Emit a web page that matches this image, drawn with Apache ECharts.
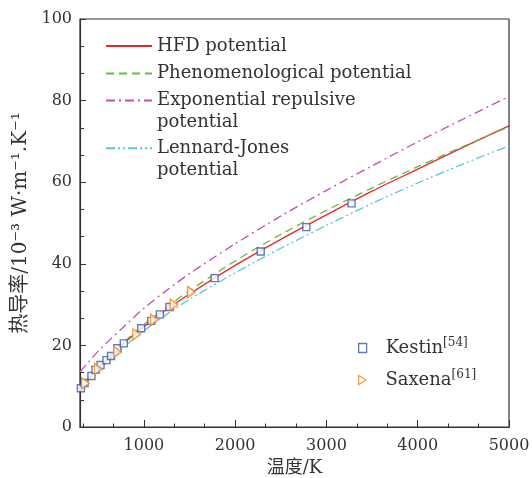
<!DOCTYPE html>
<html><head><meta charset="utf-8">
<script src="https://cdn.jsdelivr.net/npm/echarts@6/dist/echarts.min.js"></script>
<style>html,body{margin:0;padding:0;background:#fff}#c{width:532px;height:478px}</style>
</head><body><div id="c"></div>
<script>
// ---- data ----
const temps = [300, 400, 500, 600, 800, 1000, 1250, 1500, 2000, 2500, 3000, 3500, 4000, 4500, 5000];
const hfd   = [9.5, 12.0, 14.4, 16.6, 20.9, 24.6, 28.8, 32.6, 39.6, 46.0, 52.0, 57.8, 63.2, 68.6, 73.8];
const phen  = [9.5, 12.0, 14.6, 16.9, 21.2, 25.1, 29.4, 33.4, 40.7, 47.2, 53.1, 58.6, 63.8, 68.8, 73.6];
const expo  = [13.5, 16.1, 18.6, 20.8, 25.0, 29.1, 33.5, 37.6, 44.9, 51.7, 58.0, 64.0, 69.9, 75.5, 81.0];
const lj    = [9.2, 11.7, 14.0, 16.0, 20.0, 23.6, 27.6, 31.3, 37.8, 43.8, 49.4, 54.8, 59.8, 64.5, 68.9];

const kestinT = [310, 350, 425, 470, 525, 590, 640, 710, 780, 970, 1080, 1175, 1280, 1775, 2280, 2780, 3275];
const kestinV = [9.5, 10.8, 12.5, 14.0, 15.2, 16.4, 17.4, 19.3, 20.5, 24.2, 26.0, 27.6, 29.4, 36.5, 43.0, 49.0, 54.8];
const saxenaT = [360, 500, 710, 920, 1115, 1330, 1520];
const saxenaV = [10.7, 14.2, 18.4, 22.7, 26.3, 30.0, 33.1];

const xMajorTicks = [1000, 2000, 3000, 4000, 5000];
const xMinorTicks = [333.3, 666.7, 1333.3, 1666.7, 2333.3, 2666.7, 3333.3, 3666.7, 4333.3, 4666.7];

const names = {
  hfd: 'HFD potential',
  phen: 'Phenomenological potential',
  expo: 'Exponential repulsive\npotential',
  lj: 'Lennard-Jones\npotential',
  kestin: 'Kestin',
  saxena: 'Saxena'
};
// ---------------

const SERIF = '"DejaVu Serif", "Noto Sans CJK SC", serif';
const pair = (xs, ys) => xs.map((x, i) => [x, ys[i]]);

function lineSeries(name, ys, color, type) {
  return {
    name, type: 'line', data: pair(temps, ys), smooth: 0.3, symbol: 'none', showSymbol: false,
    lineStyle: { color, width: 1.3, type }, itemStyle: { color }, z: 2
  };
}

const legendCommon = {
  orient: 'vertical', padding: 0, itemWidth: 46, itemHeight: 14, selectedMode: false,
  itemStyle: { opacity: 0 },
  textStyle: { fontFamily: SERIF, fontSize: 18, color: '#333', lineHeight: 22 }
};
const legendCommon2 = Object.assign({}, legendCommon, {
  formatter: n => '\n' + n
});
const scLegend = {
  orient: 'vertical', padding: 0, itemWidth: 8, itemHeight: 9, selectedMode: false,
  symbolKeepAspect: true,
  itemStyle: { borderWidth: 1.3 },
  formatter: n => n === 'Kestin' ? '{sp|}{n|Kestin}{s|[54]}' : '{sp|}{n|Saxena}{s|[61]}',
  textStyle: {
    fontFamily: SERIF, fontSize: 18, color: '#333', lineHeight: 22,
    rich: {
      sp: { width: 14, lineHeight: 22 },
      n: { fontFamily: SERIF, fontSize: 18, color: '#333', lineHeight: 22 },
      s: { fontFamily: SERIF, fontSize: 12, color: '#333', verticalAlign: 'top', lineHeight: 22, padding: [0, 0, 8, 0] }
    }
  }
};

const option = {
  backgroundColor: '#fff',
  animation: false,
  grid: {
    left: 80, right: 23, top: 19, bottom: 51, containLabel: false, outerBoundsMode: 'none',
    show: true, borderColor: '#333', borderWidth: 1.2
  },
  legend: [
    Object.assign({ data: [names.hfd], left: 105, top: 35 }, legendCommon),
    Object.assign({ data: [names.phen], left: 105, top: 62.5 }, legendCommon),
    Object.assign({ data: [names.expo], left: 105, top: 67.5 }, legendCommon2),
    Object.assign({ data: [names.lj], left: 105, top: 115.3 }, legendCommon2),
    Object.assign({ data: [names.kestin], left: 358, top: 337 }, scLegend),
    Object.assign({ data: [names.saxena], left: 358, top: 369 }, scLegend)
  ],
  xAxis: [
    {
      type: 'value', min: 300, max: 5000, position: 'bottom',
      name: '温度/K', nameLocation: 'middle', nameGap: 32,
      nameTextStyle: { fontFamily: SERIF, fontSize: 18, color: '#333' },
      axisLine: { show: true, lineStyle: { color: '#333', width: 1.2 } },
      axisTick: { show: true, inside: true, length: 7, customValues: xMajorTicks, lineStyle: { color: '#333' } },
      axisLabel: { customValues: xMajorTicks, formatter: v => String(v), fontFamily: SERIF, fontSize: 16, color: '#333', margin: 11 },
      splitLine: { show: false }
    },
    {
      type: 'value', min: 300, max: 5000, position: 'bottom',
      axisLine: { show: false },
      axisTick: { show: true, inside: true, length: 3.5, customValues: xMinorTicks, lineStyle: { color: '#333' } },
      axisLabel: { show: false },
      splitLine: { show: false }
    }
  ],
  yAxis: {
    type: 'value', min: 0, max: 100, interval: 20,
    name: '热导率/10⁻³ W·m⁻¹.K⁻¹', nameLocation: 'middle', nameGap: 32, nameRotate: 90,
    nameTextStyle: { fontFamily: SERIF, fontSize: 20, color: '#333' },
    axisLine: { show: true, lineStyle: { color: '#333', width: 1.2 } },
    axisTick: { show: true, inside: true, length: 6, lineStyle: { color: '#333' } },
    minorTick: { show: true, splitNumber: 3, length: 4, lineStyle: { color: '#333' } },
    axisLabel: { fontFamily: SERIF, fontSize: 16, color: '#333', margin: 8 },
    splitLine: { show: false }
  },
  series: [
    lineSeries(names.hfd, hfd, '#e8262b', 'solid'),
    lineSeries(names.phen, phen, '#63b946', [8, 5]),
    lineSeries(names.expo, expo, '#c04fb8', [9, 4, 2, 4]),
    lineSeries(names.lj, lj, '#5bc4dd', [9, 3, 2, 3, 2, 3]),
    {
      name: names.kestin, type: 'scatter', data: pair(kestinT, kestinV),
      symbol: 'rect', symbolSize: 7, symbolKeepAspect: true, z: 5,
      itemStyle: { color: '#fff', borderColor: '#3d59a8', borderWidth: 1.4 }
    },
    {
      name: names.saxena, type: 'scatter', data: pair(saxenaT, saxenaV),
      symbol: 'path://M0,0L10,6L0,12Z', symbolSize: [9, 11], symbolKeepAspect: true, z: 5,
      itemStyle: { color: '#fff', borderColor: '#f3861c', borderWidth: 1.5 }
    }
  ]
};
const chart = echarts.init(document.getElementById('c'), null, { renderer: 'canvas' });
chart.setOption(option);
</script>
</body></html>
